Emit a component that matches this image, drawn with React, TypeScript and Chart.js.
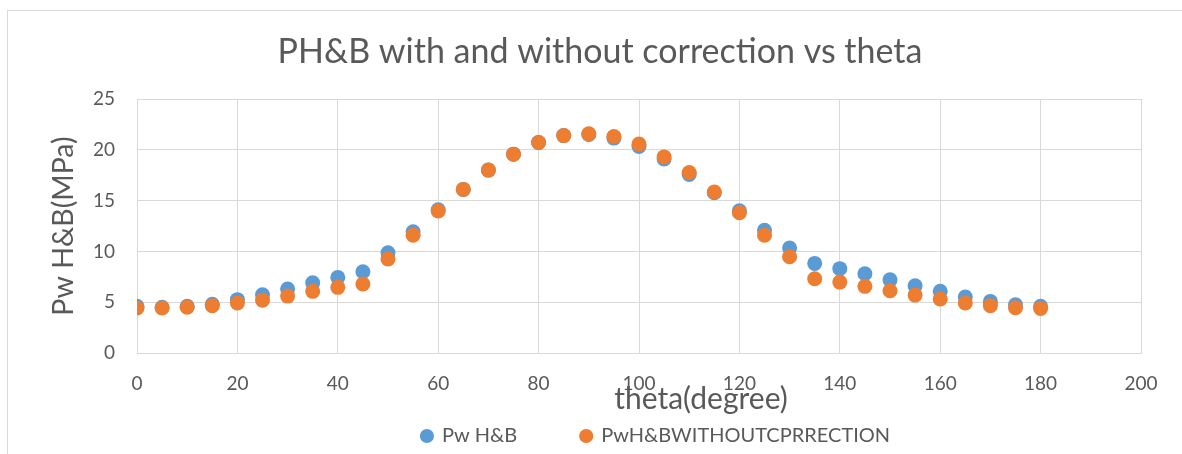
import { useEffect, useRef } from "react";
import { Chart, registerables } from "chart.js";

Chart.register(...registerables);

const thetaDeg = [0, 5, 10, 15, 20, 25, 30, 35, 40, 45, 50, 55, 60, 65, 70, 75, 80, 85, 90, 95, 100, 105, 110, 115, 120, 125, 130, 135, 140, 145, 150, 155, 160, 165, 170, 175, 180];
const pwHB = [4.6, 4.5, 4.6, 4.8, 5.25, 5.74, 6.3, 6.92, 7.44, 8.0, 9.87, 11.93, 14.1, 16.1, 18.0, 19.57, 20.72, 21.4, 21.5, 21.15, 20.33, 19.1, 17.57, 15.77, 14.0, 12.07, 10.33, 8.82, 8.3, 7.8, 7.2, 6.62, 6.07, 5.51, 5.08, 4.75, 4.59];
const pwHBWithoutCorrection = [4.43, 4.43, 4.5, 4.66, 4.92, 5.2, 5.6, 6.07, 6.46, 6.79, 9.25, 11.6, 13.97, 16.1, 18.0, 19.57, 20.72, 21.4, 21.57, 21.3, 20.56, 19.3, 17.77, 15.84, 13.8, 11.6, 9.48, 7.31, 6.98, 6.56, 6.12, 5.7, 5.31, 4.92, 4.66, 4.46, 4.39];

const seriesNames = ["Pw H&B", "PwH&BWITHOUTCPRRECTION"];
const seriesColors = ["#5B9BD5", "#ED7D31"];
const chartTitle = "PH&B with and without correction vs theta";
const xAxisTitle = "theta(degree)";
const yAxisTitle = "Pw H&B(MPa)";

const FONT = "Lato";
const TEXT = "#595959";
const GRID = "#d9d9d9";

const LEGEND_PAD = 64;
const LEGEND_FONT = 20;

const placeBoxes = {
  id: "placeBoxes",
  afterLayout(chart: any) {
    const t = chart.titleBlock;
    if (t) {
      const dx = 600 - (t.left + t.right) / 2;
      t.left += dx;
      t.right += dx;
    }
    const lg = chart.legend;
    if (lg) {
      const dx = 656 - (lg.left + lg.right) / 2;
      lg.left += dx;
      lg.right += dx;
      const targetTop = 436 - LEGEND_FONT / 2 - LEGEND_PAD;
      lg.top = targetTop;
      lg.bottom = 460;
      lg.height = lg.bottom - lg.top;
    }
    const xs = chart.scales.x;
    if (xs && !xs.__shifted) {
      xs.__shifted = true;
      const orig = xs.drawTitle.bind(xs);
      xs.drawTitle = () => {
        const ctx = chart.ctx;
        ctx.save();
        ctx.translate(62, 0);
        orig();
        ctx.restore();
      };
    }
  },
};

export default function App() {
  const ref = useRef<HTMLCanvasElement>(null);

  useEffect(() => {
    if (!ref.current) return;
    const toPts = (ys: number[]) => thetaDeg.map((x, i) => ({ x, y: ys[i] }));
    const chart = new Chart(ref.current, {
      type: "scatter",
      data: {
        datasets: [
          {
            label: seriesNames[0],
            data: toPts(pwHB),
            backgroundColor: seriesColors[0],
            borderColor: seriesColors[0],
            pointRadius: 7.5,
            pointHoverRadius: 7.5,
            borderWidth: 0,
            order: 2,
          },
          {
            label: seriesNames[1],
            data: toPts(pwHBWithoutCorrection),
            backgroundColor: seriesColors[1],
            borderColor: seriesColors[1],
            pointRadius: 7.5,
            pointHoverRadius: 7.5,
            borderWidth: 0,
            order: 1,
          },
        ],
      },
      options: {
        responsive: false,
        animation: false,
        layout: { padding: { left: 0, right: 41, top: 0, bottom: 0 } },
        plugins: {
          tooltip: { enabled: false },
          title: {
            display: true,
            text: chartTitle,
            color: TEXT,
            font: { family: FONT, size: 34, weight: "normal", lineHeight: 1.2 },
            padding: { top: 31.4, bottom: 26.8 },
          },
          legend: {
            display: true,
            position: "bottom",
            maxHeight: 33,
            labels: {
              usePointStyle: true,
              pointStyle: "circle",
              boxWidth: 10,
              boxHeight: 10,
              padding: LEGEND_PAD,
              color: TEXT,
              font: { family: FONT, size: LEGEND_FONT },
              sort: (a: any, b: any) => a.datasetIndex - b.datasetIndex,
            },
          },
        },
        scales: {
          x: {
            type: "linear",
            min: 0,
            max: 200,
            ticks: { stepSize: 20, color: TEXT, padding: 21, font: { family: FONT, size: 19, lineHeight: 1.0 } },
            grid: { color: GRID, lineWidth: 1, drawTicks: false },
            border: { color: GRID },
            title: {
              display: true,
              text: xAxisTitle,
              color: TEXT,
              font: { family: FONT, size: 30, lineHeight: 1.0 },
              padding: { top: 0, bottom: 6.6 },
            },
            afterFit: (s: any) => {
              s.height = 68;
            },
          },
          y: {
            type: "linear",
            min: 0,
            max: 25,
            ticks: { stepSize: 5, color: TEXT, padding: 22, font: { family: FONT, size: 19, lineHeight: 1.0 } },
            grid: { color: GRID, lineWidth: 1, drawTicks: false },
            border: { color: GRID },
            title: {
              display: true,
              text: yAxisTitle,
              color: TEXT,
              font: { family: FONT, size: 28.5, lineHeight: 1.0 },
              padding: { top: 49.2, bottom: 0 },
            },
            afterFit: (s: any) => {
              s.width = 137;
            },
          },
        },
      },
      plugins: [placeBoxes],
    });
    return () => chart.destroy();
  }, []);

  return (
    <>
      <div
        style={{
          position: "fixed",
          left: 7,
          top: 10,
          width: 1400,
          height: 700,
          borderLeft: `1px solid ${GRID}`,
          borderTop: `1px solid ${GRID}`,
          background: "#fff",
        }}
      />
      <canvas
        ref={ref}
        width={1182}
        height={454}
        style={{ position: "fixed", left: 0, top: 0, width: 1182, height: 454 }}
      />
    </>
  );
}
